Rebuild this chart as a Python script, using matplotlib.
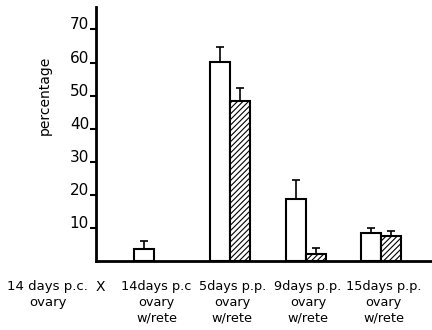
import numpy as np
import matplotlib
matplotlib.use("Agg")
import matplotlib.pyplot as plt

# groups with bars (left of each pair = open bar, right = hatched bar)
groups = ["14days p.c\novary\nw/rete", "5days p.p.\novary\nw/rete",
          "9days p.p.\novary\nw/rete", "15days p.p.\novary\nw/rete"]
open_vals = [3.6, 60.2, 18.6, 8.5]
open_err = [2.5, 4.4, 5.9, 1.6]
hatch_vals = [0.0, 48.4, 2.0, 7.6]
hatch_err = [0.0, 3.8, 1.9, 1.4]
yticks = [10, 20, 30, 40, 50, 60, 70]

plt.rcParams['hatch.linewidth'] = 0.8

fig = plt.figure(figsize=(4.32, 3.30), dpi=100)
ax = fig.add_axes([96 / 432, 1 - 261 / 330, 1 - 96 / 432, 253.7 / 330])

x = np.arange(len(groups))
w = 0.265
ax.bar(x - w / 2, open_vals, w, color="white", edgecolor="black", linewidth=1.5,
       yerr=[np.zeros(len(open_err)), open_err], capsize=3,
       error_kw=dict(elinewidth=1.2, capthick=1.2, ecolor="black"))
hv = np.array(hatch_vals)
he = np.array(hatch_err)
keep = hv > 0
ax.bar(x[keep] + w / 2, hv[keep], w, color="white", edgecolor="black", linewidth=1.5,
       hatch="//////", yerr=[np.zeros(keep.sum()), he[keep]], capsize=3,
       error_kw=dict(elinewidth=1.2, capthick=1.2, ecolor="black"))

ax.set_xlim(-0.77, 3.67)
ax.set_ylim(0, 76.7)
ax.set_yticks(yticks)
ax.set_xticks([])
for s in ["top", "right"]:
    ax.spines[s].set_visible(False)
ax.spines["left"].set_linewidth(2)
ax.spines["bottom"].set_linewidth(2)
ax.tick_params(axis="y", length=4, width=1.5, labelsize=11, pad=1)
for lbl in ax.get_yticklabels():
    lbl.set_verticalalignment("baseline")

ax.set_ylabel("percentage", fontsize=10)
ax.yaxis.set_label_coords(-0.131, 0.654)

trans = ax.get_xaxis_transform()
for xi, g in zip(x, groups):
    ax.text(xi + 0.03, -0.075, g, transform=trans, ha="center", va="top",
            fontsize=9.3, linespacing=1.25, multialignment="center", clip_on=False)
ax.text(-1.41, -0.075, "14 days p.c.\novary", transform=trans, ha="center", va="top",
        fontsize=9.5, linespacing=1.25, multialignment="center", clip_on=False)
ax.text(-0.71, -0.075, "X", transform=trans, ha="center", va="top",
        fontsize=10, clip_on=False)

fig.savefig("out.png", dpi=100)
